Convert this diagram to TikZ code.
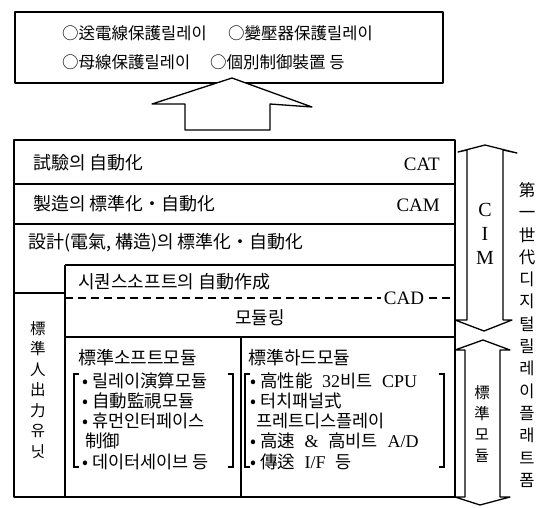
\documentclass[tikz,border=0pt]{standalone}
\usepackage{fontspec}
\setmainfont{Noto Sans CJK KR}
\newfontfamily\lat{Liberation Serif}
\newcommand{\gp}{\hspace{0.55em}}
\begin{document}
\begin{tikzpicture}[x=1pt,y=-1pt,
  ln/.style={line width=1.3pt, line join=round},
  txt/.style={inner sep=0pt, font=\fontsize{18}{21}\selectfont},
  itm/.style={inner sep=0pt, font=\fontsize{17.5}{20}\selectfont},
  toptxt/.style={inner sep=0pt, font=\fontsize{16.5}{19}\selectfont},
  lbl/.style={inner sep=0pt, font=\lat\fontsize{19}{22}\selectfont},
  vtxt/.style={inner sep=0pt, align=center},
  brk/.style={line width=1.1pt}]
\useasboundingbox (0,0) rectangle (539,507);
% top box
\draw[ln] (15,12) rectangle (443,83);
\node[toptxt,anchor=west] (t1) at (62,33) {○送電線保護릴레이};
\node[toptxt,anchor=west] (t2) at (228,33) {○變壓器保護릴레이};
\node[toptxt,anchor=west] (t3) at (62,62) {○母線保護릴레이};
\node[toptxt,anchor=west] (t4) at (210,62) {○個別制御裝置 등};
% big up arrow
\draw[ln, fill=white] (185,130) -- (185,104) -- (152,104) -- (232,78) -- (312,107) -- (270,104) -- (270,130) -- cycle;
% main box
\draw[ln] (14,140) rectangle (455,497);
\draw[ln] (14,184) -- (455,184);
\draw[ln] (14,224) -- (455,224);
\draw[ln] (65,265) -- (455,265);
\draw[ln] (65,265) -- (65,497);
\draw[ln] (14,293) -- (65,293);
\draw[line width=1.1pt, dash pattern=on 8pt off 5pt] (65,298) -- (455,298);
\draw[ln] (65,337) -- (455,337);
\draw[ln] (241,337) -- (241,497);
% row texts
\node[txt,anchor=west] (r1) at (33,163) {試驗의 自動化};
\node[lbl,anchor=east] (cat) at (440,164) {CAT};
\node[txt,anchor=west] (r2) at (33,204) {製造의 標準化・自動化};
\node[lbl,anchor=east] (cam) at (440,205) {CAM};
\node[txt,anchor=west] (r3) at (28,243) {設計(電氣, 構造)의 標準化・自動化};
\node[txt,anchor=west] (seq) at (78,282) {시퀀스소프트의 自動作成};
\node[lbl,fill=white,inner xsep=3pt] (cad) at (404,298) {CAD};
\node[txt] (mod) at (260,318) {모듈링};
\node[txt,anchor=west] (sm) at (78,358) {標準소프트모듈};
\node[txt,anchor=west] (hm) at (248,358) {標準하드모듈};
% soft items
\node[itm,anchor=west] (s1) at (82,381) {• 릴레이演算모듈};
\node[itm,anchor=west] (s2) at (82,401) {• 自動監視모듈};
\node[itm,anchor=west] (s3) at (82,421) {• 휴먼인터페이스};
\node[itm,anchor=west] (s4) at (85,441) {制御};
\node[itm,anchor=west] (s5) at (82,462) {• 데이터세이브 등};
\draw[brk] (79,374) -- (74,374) -- (74,467) -- (79,467);
\draw[brk] (228,374) -- (233,374) -- (233,467) -- (228,467);
% hard items
\node[itm,anchor=west] (h1) at (250,381) {• 高性能\gp{\lat\fontsize{18}{20}\selectfont 32}비트\gp{\lat\fontsize{18}{20}\selectfont CPU}};
\node[itm,anchor=west] (h2) at (250,401) {• 터치패널式};
\node[itm,anchor=west] (h3) at (256,421) {프레트디스플레이};
\node[itm,anchor=west] (h4) at (250,441) {• 高速\gp{\lat\fontsize{18}{20}\selectfont\&}\gp 高비트\gp{\lat\fontsize{18}{20}\selectfont A/D}};
\node[itm,anchor=west] (h5) at (250,462) {• 傳送\gp{\lat\fontsize{18}{20}\selectfont I/F}\gp 등};
\draw[brk] (250,374) -- (245,374) -- (245,467) -- (250,467);
\draw[brk] (439,374) -- (444,374) -- (444,467) -- (439,467);
% left vertical label
\node[vtxt, font=\fontsize{15.5}{20.5}\selectfont] (lu) at (38,390) {標\\準\\人\\出\\力\\유\\닛};
% CIM double arrow
\draw[ln, fill=white] (467,150) -- (467,320) -- (455,320) -- (484,331) -- (512,320) -- (503,320) -- (503,150) -- (517,153) -- (485,145) -- (458,152) -- cycle;
\node[vtxt, font=\lat\fontsize{20}{24}\selectfont] (cim) at (485,234) {C\\I\\M};
% standard module double arrow
\draw[ln, fill=white] (465,350) -- (465,497) -- (455,497) -- (480,505) -- (510,497) -- (500,497) -- (500,350) -- (510,350) -- (483,340) -- (455,350) -- cycle;
\node[vtxt, font=\fontsize{15.5}{21}\selectfont] (std) at (482,424) {標\\準\\모\\듈};
% right vertical label
\node[vtxt, font=\fontsize{16.5}{22.3}\selectfont] (plat) at (527,335) {第\\一\\世\\代\\디\\지\\털\\릴\\레\\이\\플\\래\\트\\폼};
\end{tikzpicture}
\end{document}
